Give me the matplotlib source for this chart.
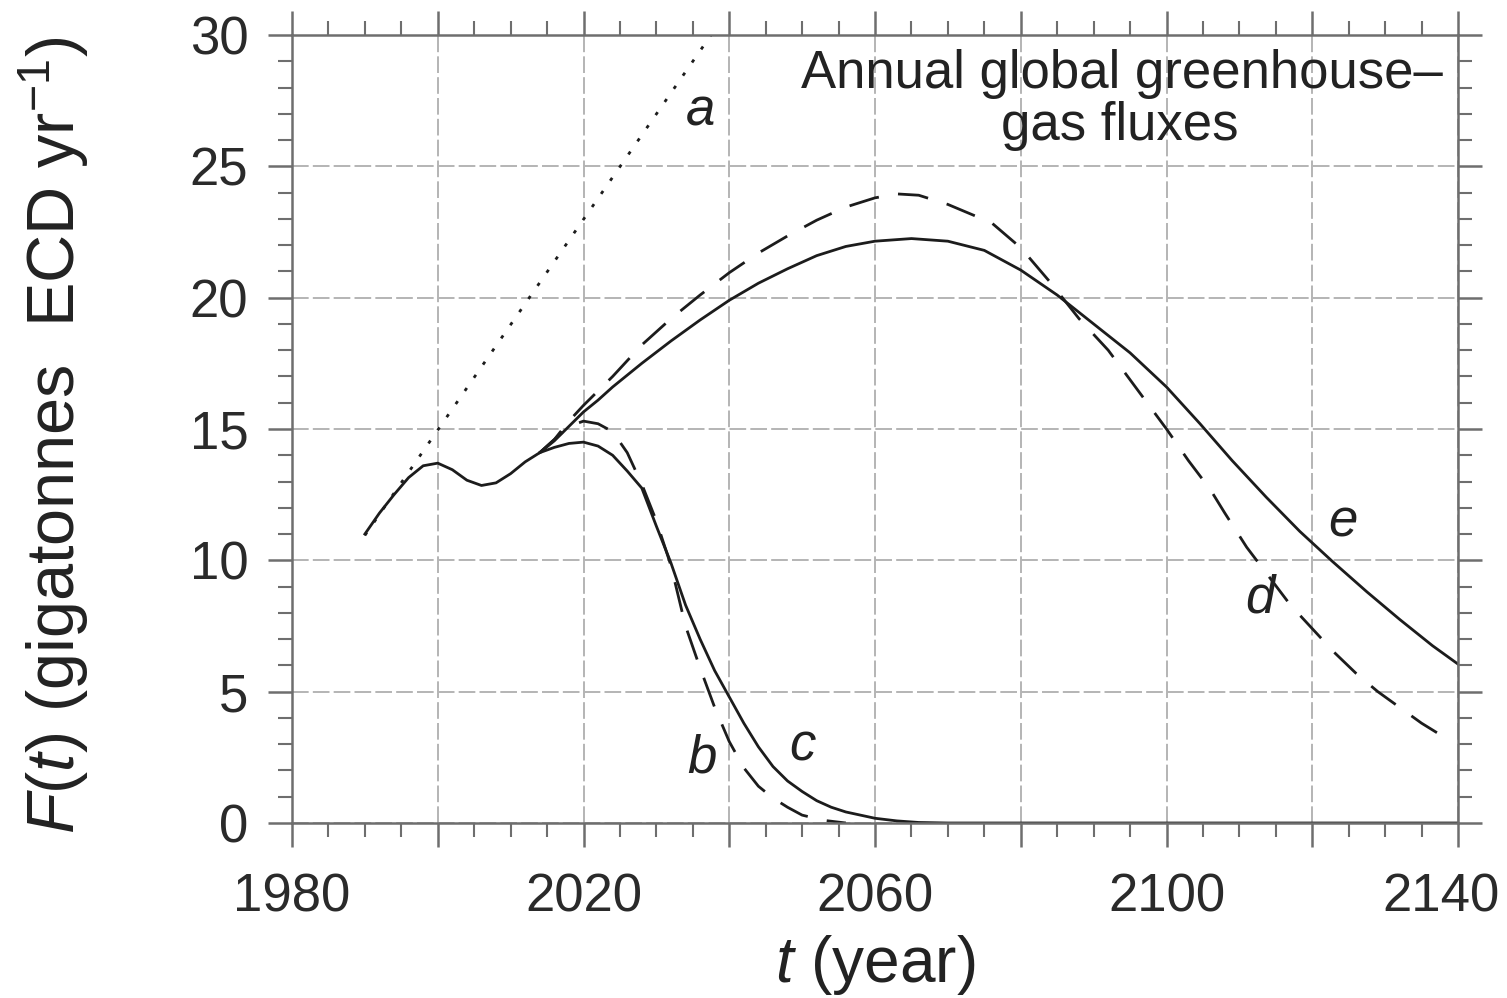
import matplotlib
matplotlib.use("Agg")
import matplotlib.pyplot as plt
import matplotlib.transforms as mtransforms
from matplotlib.ticker import MultipleLocator, FuncFormatter

plt.rcParams['font.family'] = ['Liberation Sans', 'DejaVu Sans']
plt.rcParams['mathtext.fontset'] = 'custom'
plt.rcParams['mathtext.rm'] = 'Liberation Sans'
plt.rcParams['mathtext.it'] = 'Liberation Sans:italic'
plt.rcParams['lines.scale_dashes'] = False

# curve a: straight dotted extrapolation
a_years = [1990, 2037.5]
a_vals = [10.95, 30.0]

# curve e (solid), includes the common historical part
e_years = [1990, 1992, 1994, 1996, 1998, 2000, 2002, 2004, 2006, 2008, 2010, 2012, 2014,
           2016, 2018, 2020, 2022, 2024, 2028, 2032, 2036, 2040, 2044, 2048, 2052, 2056, 2060,
           2065, 2070, 2075, 2080, 2085, 2090, 2095, 2100, 2104.6, 2109, 2113.7, 2118.3,
           2122.8, 2127.5, 2132, 2136.5, 2140]
e_vals = [11.0, 11.8, 12.5, 13.15, 13.6, 13.7, 13.45, 13.05, 12.85, 12.95, 13.3, 13.75, 14.1,
          14.55, 15.1, 15.65, 16.1, 16.6, 17.5, 18.35, 19.15, 19.9, 20.55, 21.1, 21.6, 21.95, 22.15,
          22.25, 22.15, 21.8, 21.05, 20.1, 19.0, 17.9, 16.6, 15.2, 13.8, 12.4, 11.1,
          9.95, 8.8, 7.75, 6.75, 6.05]

# curve d (dashed)
d_years = [2014, 2016, 2018, 2020, 2024, 2028, 2032, 2036, 2040, 2044, 2048, 2052, 2056,
           2060, 2063, 2066, 2070, 2076, 2080, 2084, 2088, 2092, 2096, 2100, 2103, 2106,
           2108, 2111, 2114, 2117, 2120, 2123, 2126, 2129, 2132, 2135, 2138.5]
d_vals = [14.1, 14.6, 15.3, 15.9, 17.0, 18.2, 19.2, 20.1, 20.95, 21.7, 22.35, 22.95, 23.45,
          23.8, 23.95, 23.9, 23.55, 22.85, 21.9, 20.6, 19.2, 18.0, 16.5, 15.0, 13.8, 12.7,
          11.8, 10.5, 9.4, 8.3, 7.4, 6.5, 5.7, 5.0, 4.4, 3.8, 3.2]

# curve b (dashed)
b_years = [2014, 2016, 2018, 2020, 2022, 2024, 2026, 2028, 2030, 2032, 2034, 2036, 2038,
           2040, 2042, 2044, 2046, 2048, 2050, 2053, 2056]
b_vals = [14.1, 14.6, 15.1, 15.3, 15.2, 14.9, 14.1, 12.9, 11.5, 9.8, 7.5, 5.9, 4.4,
          3.1, 2.1, 1.4, 0.95, 0.6, 0.3, 0.1, 0.0]

# curve c (solid)
c_years = [2014, 2016, 2018, 2020, 2022, 2024, 2026, 2028, 2030, 2032, 2034, 2036, 2038,
           2040, 2042, 2044, 2046, 2048, 2050, 2052, 2054, 2056, 2058, 2060, 2063, 2066,
           2070, 2140]
c_vals = [14.1, 14.3, 14.45, 14.5, 14.35, 14.0, 13.4, 12.75, 11.3, 9.9, 8.3, 7.0, 5.8,
          4.8, 3.8, 2.9, 2.15, 1.6, 1.2, 0.85, 0.6, 0.42, 0.3, 0.18, 0.08, 0.02,
          0.0, 0.0]

curve_labels = ['a', 'b', 'c', 'd', 'e']
label_x = [2036.1, 2036.3, 2050.0, 2112.8, 2124.2]
label_y = [27.1, 2.45, 2.9, 8.55, 11.45]

title_lines = ["Annual global greenhouse\u2013", "gas fluxes"]

fig = plt.figure(figsize=(15.07, 9.98), dpi=100)
ax = fig.add_axes([292/1507, 1-823/998, (1458-292)/1507, (823-35)/998])

ink = '#1c1c1c'
ax.plot(a_years, a_vals, color=ink, lw=2.0, dashes=(2.5, 9))
ax.plot(b_years, b_vals, color=ink, lw=2.0, dashes=(22, 14))
ax.plot(d_years, d_vals, color=ink, lw=2.0, dashes=(22, 14))
ax.plot(c_years, c_vals, color=ink, lw=2.0)
ax.plot(e_years, e_vals, color=ink, lw=2.0)

ax.set_xlim(1980, 2140)
ax.set_ylim(0, 30)

ax.xaxis.set_major_locator(MultipleLocator(20))
ax.xaxis.set_minor_locator(MultipleLocator(5))
ax.yaxis.set_major_locator(MultipleLocator(5))
ax.yaxis.set_minor_locator(MultipleLocator(1))
# labels every 40 years; the last one (2140) is drawn separately so it fits in the figure
ax.xaxis.set_major_formatter(FuncFormatter(
    lambda v, p: "%d" % v if int(round(v)) % 40 == 20 and v < 2130 else ""))
ax.yaxis.set_major_formatter(FuncFormatter(lambda v, p: "%d" % v))

ax.grid(True, which='major', color='#b4b4b4', lw=1.4, dashes=(12, 3))

for s in ax.spines.values():
    s.set_color('#6e6e6e')
    s.set_linewidth(1.8)

ax.tick_params(which='both', direction='out', top=True, right=True,
               color='#6e6e6e', labelcolor='#2a2a2a', labelsize=38)
ax.tick_params(which='major', length=17, width=1.8)
ax.tick_params(which='minor', length=10, width=1.5)
ax.tick_params(axis='x', which='major', pad=19)
ax.tick_params(axis='y', which='major', pad=14.5)

shift = mtransforms.ScaledTranslation(-0.17, 0, fig.dpi_scale_trans)
ax.text(2140, -88/788, "2140", fontsize=38, ha='center', va='baseline', color='#2a2a2a',
        transform=ax.get_xaxis_transform() + shift)

for lab, x, y in zip(curve_labels, label_x, label_y):
    ax.text(x, y, lab, fontsize=38, style='italic', ha='center', va='center', color='#222')

ax.text(2093.9, 27.98, title_lines[0], fontsize=38, ha='center', va='baseline', color='#222')
ax.text(2093.6, 26.0, title_lines[1], fontsize=38, ha='center', va='baseline', color='#222')

fig.text(875/1507, 1-982/998, r"$\it{t}$ (year)", fontsize=46, ha='center', va='baseline', color='#222')
fig.text(54/1507, 1-435/998, r"$\it{F}$($\it{t}$) (gigatonnes  ECD yr$^{-1}$)", fontsize=48,
         rotation=90, ha='center', va='center', color='#222')

fig.savefig("out.png", dpi=100)
